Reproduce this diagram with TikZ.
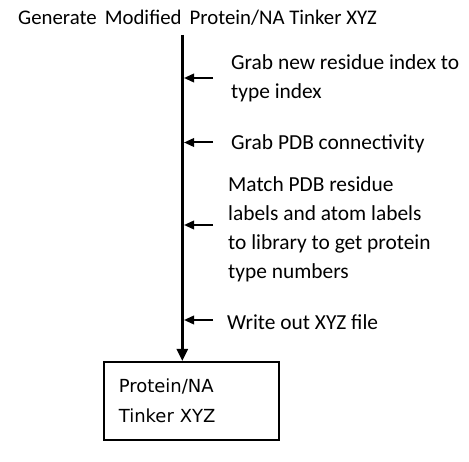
\documentclass[tikz,border=0pt]{standalone}
\usepackage{fontspec}
\setmainfont{Carlito}
\newfontfamily\boxfont{DejaVu Sans}
\usetikzlibrary{arrows.meta}
\begin{document}
\begin{tikzpicture}[x=1pt,y=-1pt,
  txt/.style={font=\fontsize{21.4}{29}\selectfont, inner sep=0pt, align=left, anchor=west},
  spine/.style={line width=2.6pt, -{Triangle[width=11pt,length=12pt]}},
  feed/.style={line width=2pt, -{Triangle[width=8.5pt,length=10pt]}},
  outbox/.style={draw, line width=1.6pt, minimum width=175pt, minimum height=78pt,
    anchor=north west, inner xsep=15pt, text width=145pt, align=left,
    font=\boxfont\fontsize{18}{30}\selectfont}]
\useasboundingbox (0,0) rectangle (469,462);
\node[font=\fontsize{20.8}{26}\selectfont, inner sep=0pt, anchor=base west] (title) at (18,25)
  {Generate\, Modified\, Protein/NA Tinker XYZ};
\coordinate (top) at (182.3,35);
\node[outbox] (out) at (103,361) {Protein/NA\\Tinker XYZ};
\draw[spine] (top) -- (out.north -| top);
\node[txt] (s1) at (231,78.5) {Grab new residue index to\\type index};
\node[txt] (s2) at (231,144) {Grab PDB connectivity};
\node[txt] (s3) at (228,229.5) {Match PDB residue\\labels and atom labels\\to library to get protein\\type numbers};
\node[txt] (s4) at (227,322) {Write out XYZ file};
\draw[feed] (213,78) -- (184,78);
\draw[feed] (213,142.5) -- (184,142.5);
\draw[feed] (213,225) -- (184,225);
\draw[feed] (213,320) -- (184,320);
\end{tikzpicture}
\end{document}
